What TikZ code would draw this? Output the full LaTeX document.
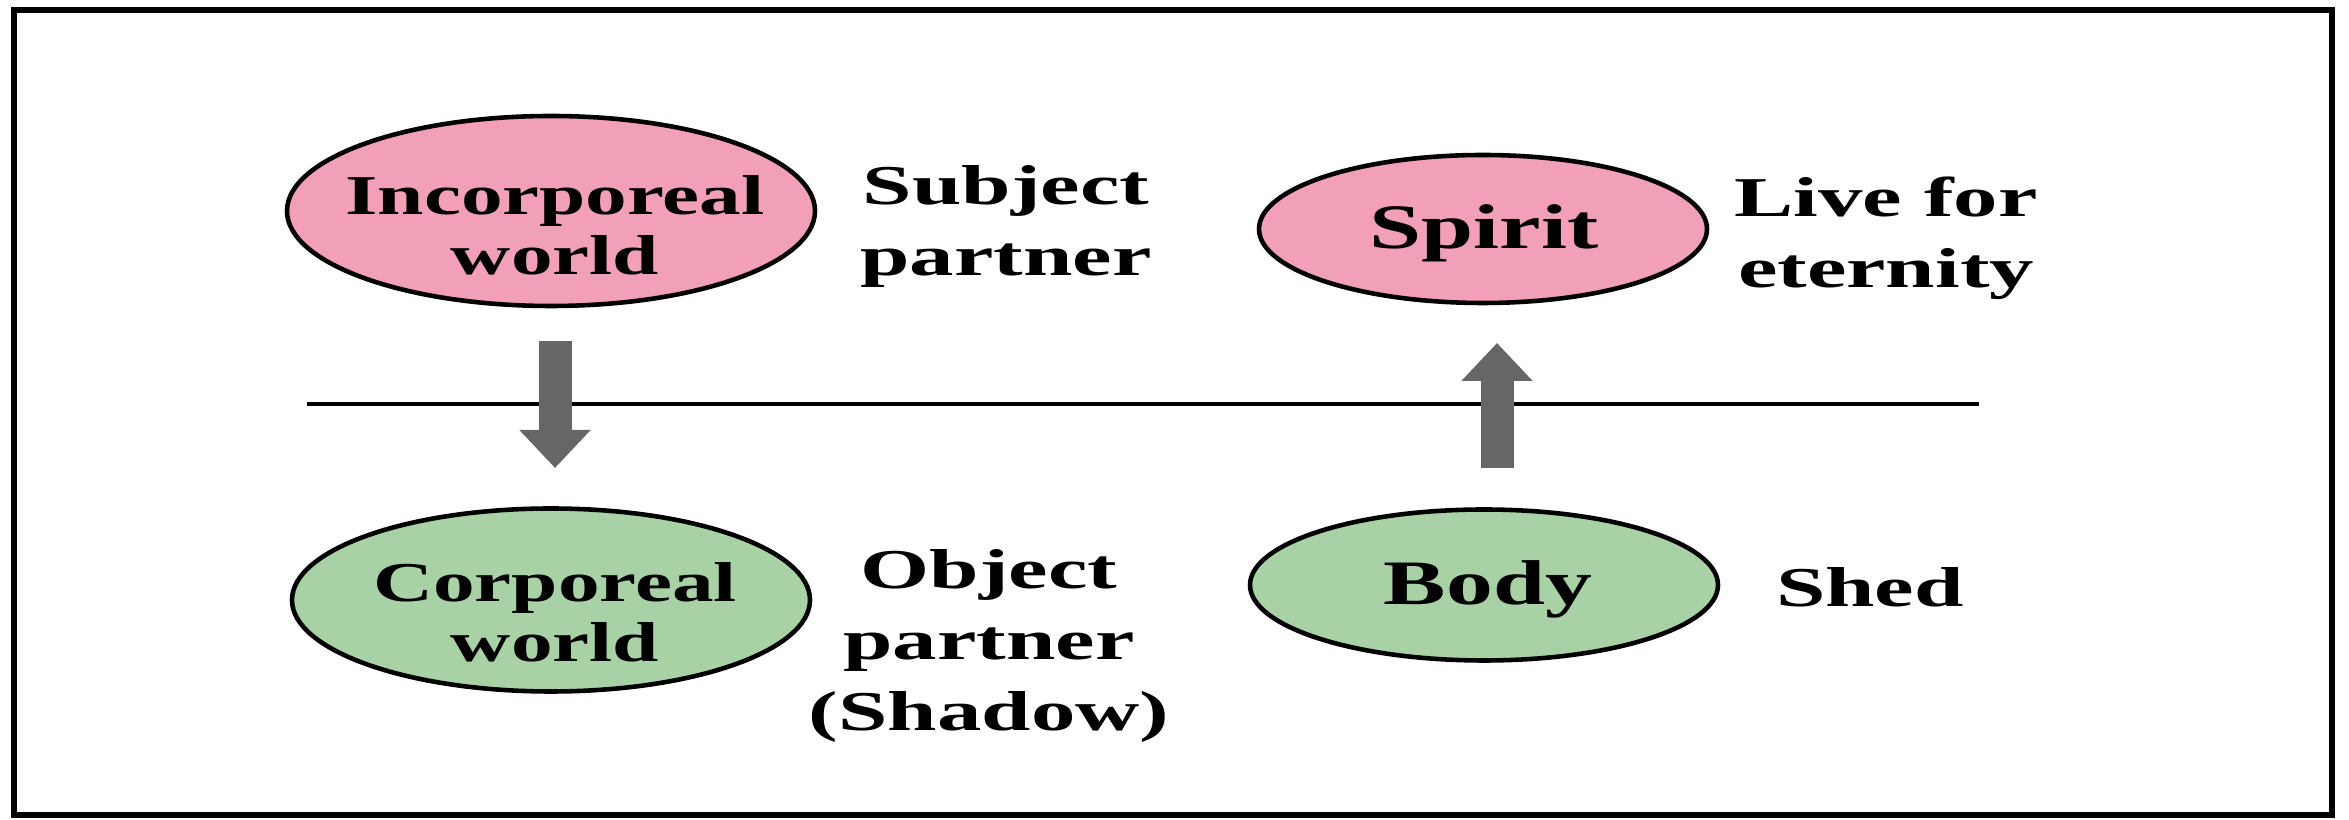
\documentclass[tikz,border=0pt]{standalone}
\usepackage{fontspec}
\setmainfont{Liberation Serif}[FakeStretch=1.58]
\newfontfamily\OvalFont{Liberation Serif}[FakeStretch=1.48]
\usepackage{xcolor}
\definecolor{ColPink}{RGB}{241,160,184}
\definecolor{ColGreen}{RGB}{168,210,165}
\definecolor{ColArrow}{RGB}{102,102,102}
\usepackage{tikz}
\usetikzlibrary{shapes.geometric}
\usetikzlibrary{arrows.meta}
\tikzstyle{Oval}=[ellipse,draw=black,line width=1.3pt,inner sep=0pt]
\tikzstyle{OvalUp}=[Oval,fill=ColPink]
\tikzstyle{OvalDown}=[Oval,fill=ColGreen]
\tikzstyle{NodeIn}=[align=center,inner sep=0pt,
font=\OvalFont\bfseries\fontsize{16}{17}\selectfont]
\tikzstyle{NodeBig}=[inner sep=0pt,font=\OvalFont\bfseries\fontsize{18}{20}\selectfont]
\tikzstyle{NodeSide}=[align=center,inner sep=0pt,
font=\bfseries\fontsize{16}{20.2}\selectfont]
\tikzstyle{Edge}=[draw=ColArrow,line width=0.33cm,
-{Triangle[width=0.69cm,length=0.38cm]}]

\begin{document}
\begin{tikzpicture}
    \useasboundingbox (0,0) rectangle (23.49,8.20);
    \draw[line width=1.8pt] (0.14,0.05) rectangle (23.32,8.10);
    % upper row
    \node[OvalUp,minimum width=5.28cm,minimum height=1.90cm](inc)at(5.51,6.09){};
    \node[NodeIn](inct)at(5.55,5.95){Incorporeal\\world};
    \node[NodeSide](subj)at(10.06,5.94){Subject\\partner};
    \node[OvalUp,minimum width=4.48cm,minimum height=1.48cm](spi)at(14.83,5.91){};
    \node[NodeBig](spit)at(14.84,5.87){Spirit};
    \node[NodeSide](live)at(18.86,5.82){Live for\\eternity};
    % lower row
    \node[OvalDown,minimum width=5.18cm,minimum height=1.83cm](cor)at(5.51,2.20){};
    \node[NodeIn](cort)at(5.55,2.08){Corporeal\\world};
    \node[NodeSide](obj)at(9.89,1.74){Object\\partner\\(Shadow)};
    \node[OvalDown,minimum width=4.68cm,minimum height=1.51cm](bod)at(14.84,2.35){};
    \node[NodeBig](bodt)at(14.88,2.31){Body};
    \node[NodeSide](shed)at(18.70,2.33){Shed};
    % divider and arrows
    \coordinate(l0)at(3.07,4.16);
    \coordinate(l1)at(19.79,4.16);
    \draw[line width=0.045cm](l0)--(l1);
    \coordinate(d0)at(5.55,4.79);
    \coordinate(d1)at(5.55,3.52);
    \coordinate(u0)at(14.97,3.52);
    \coordinate(u1)at(14.97,4.77);
    \draw[Edge](d0)--(d1);
    \draw[Edge](u0)--(u1);
\end{tikzpicture}
\end{document}
